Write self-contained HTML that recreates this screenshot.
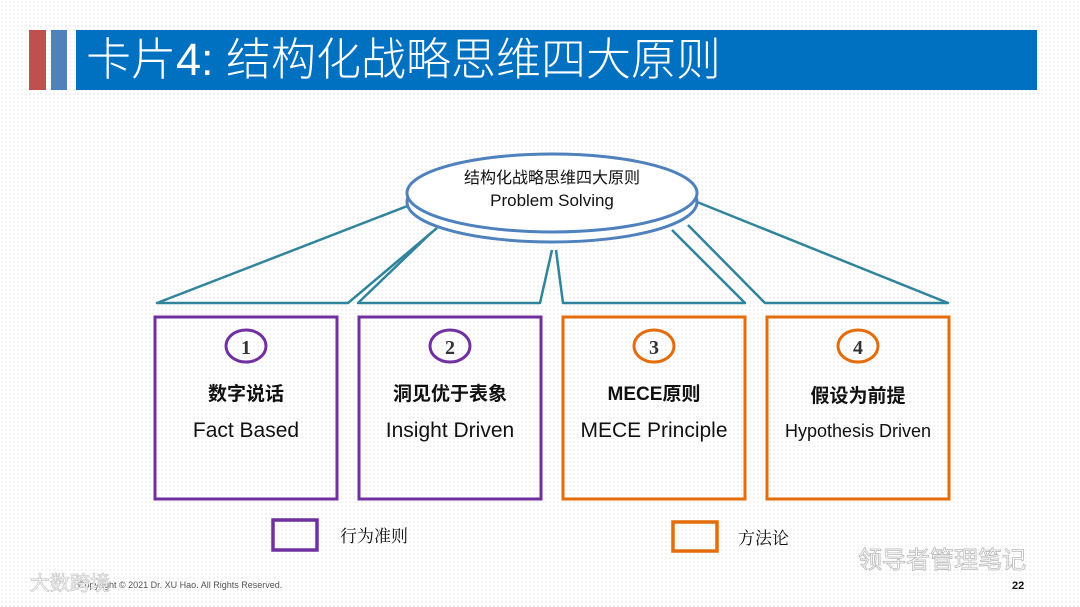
<!DOCTYPE html>
<html><head><meta charset="utf-8"><style>
body{margin:0;width:1080px;height:607px;overflow:hidden;background:#fff;background-image:radial-gradient(#d6d6d6 0.7px,transparent 0.8px);background-size:4px 4px;font-family:"Liberation Sans","Noto Sans CJK SC",sans-serif;position:relative}
.a{position:absolute}
</style></head><body>
<div class="a" style="left:29px;top:30px;width:17px;height:60px;background:#c0504d"></div>
<div class="a" style="left:51px;top:30px;width:16px;height:60px;background:#4f81bd"></div>
<div class="a" style="left:76px;top:30px;width:961px;height:60px;background:#0070c0"></div>
<div class="a" style="left:86px;top:31px;color:#fff;font-size:45px;line-height:58px;font-family:'Liberation Sans','Noto Sans CJK SC',sans-serif;font-weight:300">卡片4: 结构化战略思维四大原则</div>
<svg class="a" style="left:0;top:0" width="1080" height="607">
<g fill="none" stroke="#31849b" stroke-width="2.5" stroke-linejoin="round">
<polyline points="410,205 157,303 348,303 437,228"/>
<polyline points="432,232 358,303 540,303 552,250"/>
<polyline points="556,250 563,303 745,303 672,230"/>
<polyline points="688,225 765,303 948,303 697,202"/>
</g>
<ellipse cx="552" cy="202" rx="145" ry="40" fill="#fff" stroke="#4f81bd" stroke-width="3"/>
<ellipse cx="552" cy="193" rx="145" ry="39" fill="#fff" stroke="#4f81bd" stroke-width="3"/>
<g fill="none" stroke-width="3">
<rect x="155" y="317" width="182" height="182" stroke="#7030a0"/>
<rect x="359" y="317" width="182" height="182" stroke="#7030a0"/>
<rect x="563" y="317" width="182" height="182" stroke="#e46c0a"/>
<rect x="767" y="317" width="182" height="182" stroke="#e46c0a"/>
<ellipse cx="246" cy="346" rx="20" ry="16" stroke="#7030a0"/>
<ellipse cx="450" cy="346" rx="20" ry="16" stroke="#7030a0"/>
<ellipse cx="654" cy="346" rx="20" ry="16" stroke="#e46c0a"/>
<ellipse cx="858" cy="346" rx="20" ry="16" stroke="#e46c0a"/>
<rect x="273" y="520" width="44" height="30" stroke="#7030a0" stroke-width="3.5"/>
<rect x="673" y="522" width="44" height="29" stroke="#e46c0a" stroke-width="3.5"/>
</g>
<g font-family="Liberation Sans,Noto Sans CJK SC,sans-serif" text-anchor="middle" fill="#111">
<text x="552" y="183" font-size="16">结构化战略思维四大原则</text>
<text x="552" y="206" font-size="17">Problem Solving</text>
<g font-size="20" font-weight="bold" fill="#333" font-family="Liberation Serif,serif"><text x="246" y="354">1</text><text x="450" y="354">2</text><text x="654" y="354">3</text><text x="858" y="354">4</text></g>
<g font-size="19" font-weight="bold"><text x="246" y="400">数字说话</text><text x="450" y="400">洞见优于表象</text><text x="654" y="400">MECE原则</text><text x="858" y="402">假设为前提</text></g>
<text x="246" y="437" font-size="21">Fact Based</text>
<text x="450" y="437" font-size="21">Insight Driven</text>
<text x="654" y="437" font-size="21">MECE Principle</text>
<text x="858" y="437" font-size="18">Hypothesis Driven</text>
</g>
<g font-family="Liberation Serif,Noto Serif CJK SC,serif" font-size="17" fill="#111">
<text x="340" y="542">行为准则</text><text x="738" y="544">方法论</text></g>
<text x="858" y="568" font-family="Liberation Sans,Noto Sans CJK SC,sans-serif" font-size="24" fill="#fff" stroke="#bbb" stroke-width="0.8">领导者管理笔记</text>
<text x="78" y="588" font-family="Liberation Sans,sans-serif" font-size="9" fill="#555">Copyright © 2021 Dr. XU Hao. All Rights Reserved.</text>
<text x="30" y="590" font-family="Liberation Sans,Noto Sans CJK SC,sans-serif" font-size="20" fill="#fff" stroke="#ccc" stroke-width="0.8">大数跨境</text>
<text x="1012" y="589" font-family="Liberation Sans,sans-serif" font-size="11" font-weight="bold" fill="#111">22</text>
</svg>
</body></html>
